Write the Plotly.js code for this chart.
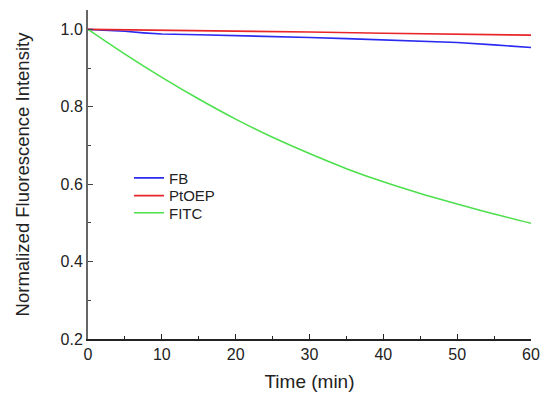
<!DOCTYPE html>
<html>
<head>
<meta charset="utf-8">
<script src="https://cdn.plot.ly/plotly-3.0.1.min.js"></script>
<style>html,body{margin:0;padding:0;background:#fff;}#chart{width:543px;height:398px;}</style>
</head>
<body>
<div id="chart"></div>
<script>
// Time (min)
const timeFB = [0, 2.5, 5, 7.5, 10, 15, 20, 25, 30, 35, 40, 45, 50, 55, 60];
const valuesFB = [1.000, 0.998, 0.995, 0.991, 0.988, 0.986, 0.984, 0.981, 0.979, 0.976, 0.973, 0.970, 0.966, 0.960, 0.953];
const timePtOEP = [0, 10, 20, 30, 40, 50, 60];
const valuesPtOEP = [1.000, 0.998, 0.996, 0.993, 0.990, 0.987, 0.985];
const timeFITC = [0, 5, 10, 15, 20, 25, 30, 35, 40, 45, 50, 55, 60];
const valuesFITC = [1.000, 0.936, 0.876, 0.820, 0.768, 0.721, 0.679, 0.640, 0.606, 0.576, 0.549, 0.523, 0.499];
const seriesNames = ["FB", "PtOEP", "FITC"];
const xTicks = [0, 10, 20, 30, 40, 50, 60];
const yTicks = [0.2, 0.4, 0.6, 0.8, 1.0];

const font = "Arial, 'Liberation Sans', sans-serif";
const traces = [
  {x: timeFB, y: valuesFB, name: seriesNames[0], legend: "legend", mode: "lines", line: {color: "#2a2af0", width: 1.6}},
  {x: timePtOEP, y: valuesPtOEP, name: seriesNames[1], legend: "legend2", mode: "lines", line: {color: "#e8262a", width: 1.6}},
  {x: timeFITC, y: valuesFITC, name: seriesNames[2], legend: "legend3", mode: "lines", line: {color: "#4de04d", width: 1.6, shape: "spline"}}
];
function leg(y) {
  return {x: 0.0926, y: y, xanchor: "left", yanchor: "middle", bgcolor: "rgba(0,0,0,0)",
          font: {size: 15, family: font, color: "#222"}, itemwidth: 30};
}
const layout = {
  width: 543, height: 398,
  margin: {l: 88, r: 12, t: 10, b: 59},
  paper_bgcolor: "#fff", plot_bgcolor: "#fff",
  font: {family: font, color: "#222", size: 16},
  showlegend: true,
  legend: leg(0.489), legend2: leg(0.435), legend3: leg(0.383),
  xaxis: {
    range: [0, 60], tickvals: xTicks, ticktext: xTicks.map(String),
    showgrid: false, zeroline: false, showline: true, linecolor: "#222", linewidth: 1.5,
    ticks: "inside", ticklen: 5, tickwidth: 1.2, tickcolor: "#222",
    minor: {dtick: 5, ticks: "inside", ticklen: 3, tickwidth: 1, tickcolor: "#222"},
    tickfont: {size: 16, family: font, color: "#222"},
    title: {text: "Time (min)", font: {size: 19, family: font, color: "#222"}, standoff: 13}
  },
  yaxis: {
    range: [0.2, 1.05], tickvals: yTicks, ticktext: yTicks.map(v => v.toFixed(1)),
    showgrid: false, zeroline: false, showline: true, linecolor: "#666", linewidth: 2,
    ticks: "inside", ticklen: 5, tickwidth: 1.2, tickcolor: "#444",
    minor: {dtick: 0.1, tick0: 0.3, ticks: "inside", ticklen: 3, tickwidth: 1, tickcolor: "#444"},
    tickfont: {size: 16, family: font, color: "#222"},
    title: {text: "Normalized Fluorescence Intensity", font: {size: 18.5, family: font, color: "#222"}, standoff: 26}
  }
};
Plotly.newPlot("chart", traces, layout, {displayModeBar: false, staticPlot: true});
</script>
</body>
</html>
